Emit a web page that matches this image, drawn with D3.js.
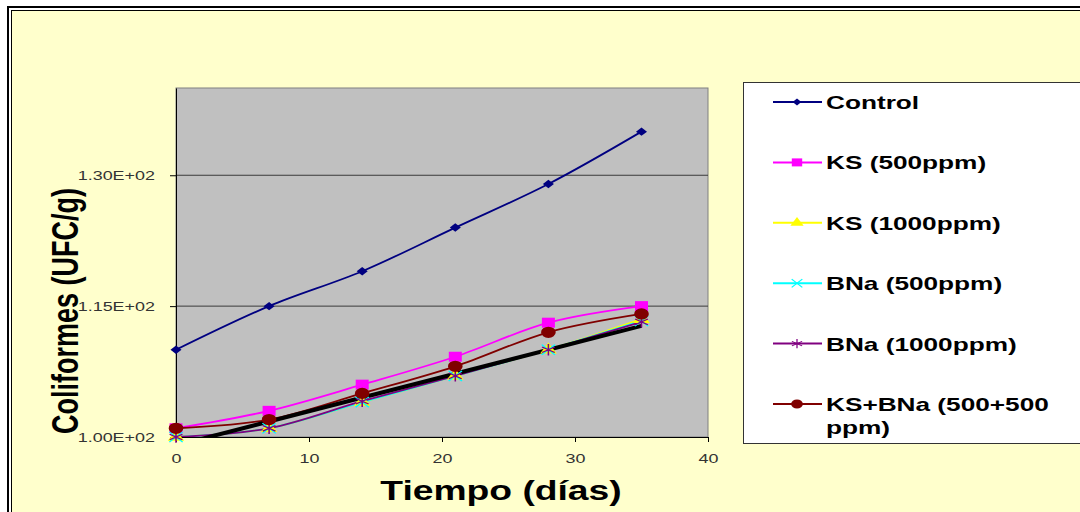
<!DOCTYPE html>
<html>
<head>
<meta charset="utf-8">
<script src="https://cdn.jsdelivr.net/npm/d3@7"></script>
<style>
  html, body { margin: 0; padding: 0; background: #ffffff; }
  svg { display: block; font-family: "Liberation Sans", Arial, sans-serif; }
</style>
</head>
<body>
<svg id="chart" width="1080" height="512"></svg>
<script>
// Sampling days
const days = [0, 7, 14, 21, 28, 35];

// Coliform counts (UFC/g) per treatment
const control  = [110, 115, 119, 124, 129, 135];
const ks500    = [101, 103, 106, 109.2, 113.1, 115];
const ks1000   = [100, 101, 104, 107, 110, 113.5];
const bna500   = [100, 101, 104, 107, 110, 113.3];
const bna1000  = [100, 101, 104.1, 107, 110, 113.2];
const ksBna    = [101, 102, 105, 108.1, 112, 114.1];

const seriesNames = ["Control", "KS (500ppm)", "KS (1000ppm)", "BNa (500ppm)", "BNa (1000ppm)", "KS+BNa (500+500 ppm)"];

// Axis ticks
const xTicks = [0, 10, 20, 30, 40];
const yTicks = [100, 115, 130];
const yTickLabels = ["1.00E+02", "1.15E+02", "1.30E+02"];

const xTitle = "Tiempo (días)";
const yTitle = "Coliformes (UFC/g)";

// Text in this figure is drawn horizontally widened
const SX = 1.38;

const svg = d3.select("#chart");

// Chart area background with double frame
svg.append("rect").attr("x", 11).attr("y", 10).attr("width", 1100).attr("height", 520)
  .attr("fill", "#FFFFCC");
svg.append("rect").attr("x", 8).attr("y", 7).attr("width", 1100).attr("height", 520)
  .attr("fill", "none").attr("stroke", "#000").attr("stroke-width", 2);
svg.append("rect").attr("x", 11.5).attr("y", 10.5).attr("width", 1100).attr("height", 520)
  .attr("fill", "none").attr("stroke", "#000").attr("stroke-width", 1);

const plot = { left: 176, top: 88, right: 708, bottom: 437 };

const x = d3.scaleLinear().domain([0, 40]).range([plot.left, plot.right]);
const y = d3.scaleLinear().domain([100, 140]).range([plot.bottom, plot.top]);

// Plot area
svg.append("rect")
  .attr("x", plot.left).attr("y", plot.top)
  .attr("width", plot.right - plot.left).attr("height", plot.bottom - plot.top)
  .attr("fill", "#C0C0C0").attr("stroke", "#808080").attr("stroke-width", 1);

// Gridlines
svg.append("g").selectAll("line").data(yTicks.filter(v => v > 100)).join("line")
  .attr("x1", plot.left).attr("x2", plot.right)
  .attr("y1", d => y(d)).attr("y2", d => y(d))
  .attr("stroke", "#3a3a3a").attr("stroke-width", 1);

// Axes
const yAxis = d3.axisLeft(y).tickValues(yTicks)
  .tickFormat((d, i) => yTickLabels[i]).tickSize(6).tickSizeOuter(0);
const gy = svg.append("g").attr("transform", `translate(${plot.left},0)`).call(yAxis);
gy.select(".domain").attr("stroke", "#000");
gy.selectAll(".tick line").attr("stroke", "#000");
gy.selectAll(".tick text")
  .attr("x", 0).attr("dy", null)
  .attr("transform", `translate(-21,4.5) scale(${SX},1)`)
  .attr("font-size", 13).attr("fill", "#333").attr("text-anchor", "end")
  .attr("font-family", "Liberation Sans, Arial, sans-serif");

const xAxis = d3.axisBottom(x).tickValues(xTicks).tickFormat(d3.format("d"))
  .tickSize(5).tickSizeOuter(0);
const gx = svg.append("g").attr("transform", `translate(0,${plot.bottom})`).call(xAxis);
gx.select(".domain").attr("stroke", "#000");
gx.selectAll(".tick line").attr("stroke", "#000");
gx.selectAll(".tick text")
  .attr("y", 0).attr("dy", null)
  .attr("transform", `translate(0,26) scale(${SX},1)`)
  .attr("font-size", 13).attr("fill", "#333")
  .attr("font-family", "Liberation Sans, Arial, sans-serif");

// Axis titles
svg.append("text")
  .attr("transform", `translate(501,500) scale(${SX},1)`)
  .attr("text-anchor", "middle").attr("font-size", 27).attr("font-weight", "bold")
  .attr("fill", "#000").text(xTitle);

svg.append("text")
  .attr("transform", `translate(78,311) scale(${SX},1) rotate(-90)`)
  .attr("text-anchor", "middle").attr("font-size", 27).attr("font-weight", "bold")
  .attr("fill", "#000").text(yTitle);

// Series definitions
const series = [
  { name: seriesNames[0], values: control, color: "#000080", marker: "diamond" },
  { name: seriesNames[1], values: ks500,   color: "#FF00FF", marker: "square" },
  { name: seriesNames[2], values: ks1000,  color: "#FFFF00", marker: "triangle" },
  { name: seriesNames[3], values: bna500,  color: "#00FFFF", marker: "times" },
  { name: seriesNames[4], values: bna1000, color: "#800080", marker: "asterisk" },
  { name: seriesNames[5], values: ksBna,   color: "#800000", marker: "circle" }
];

svg.append("clipPath").attr("id", "plotClip").append("rect")
  .attr("x", plot.left).attr("y", plot.top)
  .attr("width", plot.right - plot.left).attr("height", plot.bottom - plot.top);

const line = d3.line().x(d => x(d[0])).y(d => y(d[1])).curve(d3.curveCatmullRom.alpha(0.5));

const linesG = svg.append("g").attr("clip-path", "url(#plotClip)");
series.forEach(s => {
  linesG.append("path")
    .datum(days.map((d, i) => [d, s.values[i]]))
    .attr("fill", "none").attr("stroke", s.color)
    .attr("stroke-width", 1.8)
    .attr("d", line);
});

// Linear trend of BNa (1000ppm)
const mx = d3.mean(days), my = d3.mean(bna1000);
const slope = d3.sum(days, (d, i) => (d - mx) * (bna1000[i] - my)) / d3.sum(days, d => (d - mx) * (d - mx));
const intercept = my - slope * mx;
const trendX = d3.extent(days);
linesG.append("path")
  .datum(trendX.map(d => [d, intercept + slope * d]))
  .attr("fill", "none").attr("stroke", "#000").attr("stroke-width", 4)
  .attr("d", d3.line().x(d => x(d[0])).y(d => y(d[1])));

// Marker drawing
function drawMarker(g, type, color, cx, cy, k) {
  const t = `translate(${cx},${cy}) scale(${1.3 * k},${k})`;
  if (type === "diamond") {
    g.append("path").attr("transform", `${t} rotate(45)`).attr("d", d3.symbol(d3.symbolSquare, 36)())
      .attr("fill", color);
  } else if (type === "square") {
    g.append("path").attr("transform", t).attr("d", d3.symbol(d3.symbolSquare, 100)())
      .attr("fill", color);
  } else if (type === "triangle") {
    g.append("path").attr("transform", t).attr("d", d3.symbol(d3.symbolTriangle, 70)())
      .attr("fill", color);
  } else if (type === "times") {
    g.append("path").attr("transform", t).attr("d", d3.symbol(d3.symbolTimes, 70)())
      .attr("fill", "none").attr("stroke", color).attr("stroke-width", 1.2);
  } else if (type === "asterisk") {
    g.append("path").attr("transform", t).attr("d", d3.symbol(d3.symbolAsterisk, 90)())
      .attr("fill", "none").attr("stroke", color).attr("stroke-width", 1.2);
  } else if (type === "circle") {
    g.append("path").attr("transform", t).attr("d", d3.symbol(d3.symbolCircle, 100)())
      .attr("fill", color);
  }
}

const markersG = svg.append("g");
series.forEach(s => {
  days.forEach((d, i) => drawMarker(markersG, s.marker, s.color, x(d), y(s.values[i]), 1));
});

// Legend
const legend = svg.append("g");
legend.append("rect").attr("x", 743.5).attr("y", 82.5).attr("width", 400).attr("height", 361)
  .attr("fill", "#fff").attr("stroke", "#333").attr("stroke-width", 1);

const legendY = d3.scalePoint().domain(seriesNames).range([102, 404]);
series.forEach(s => {
  const ly = legendY(s.name);
  legend.append("line").attr("x1", 773).attr("x2", 822).attr("y1", ly).attr("y2", ly)
    .attr("stroke", s.color).attr("stroke-width", 2);
  drawMarker(legend, s.marker, s.color, 797, ly, 0.8);
  const parts = s.name === seriesNames[5] ? ["KS+BNa (500+500", "ppm)"] : [s.name];
  parts.forEach((p, j) => {
    legend.append("text")
      .attr("transform", `translate(826,${ly + 7 + j * 23}) scale(${SX},1)`)
      .attr("font-size", 19).attr("font-weight", "bold").attr("fill", "#000").text(p);
  });
});
</script>
</body>
</html>
